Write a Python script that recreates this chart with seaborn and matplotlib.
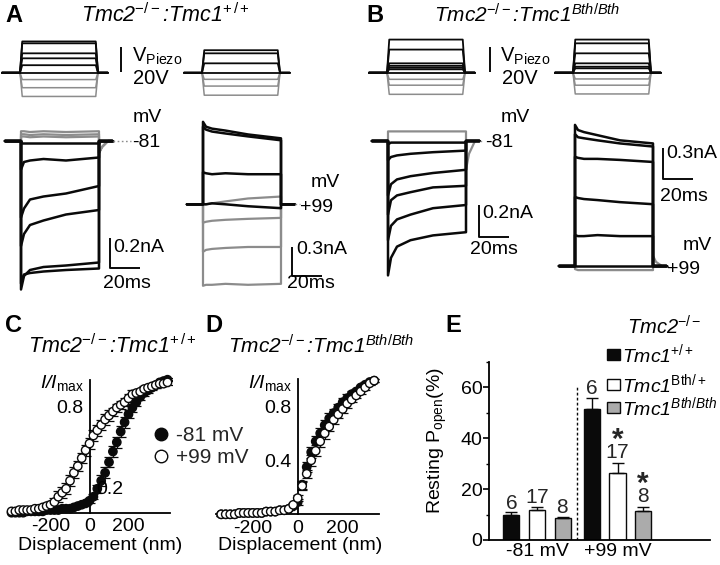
import matplotlib
matplotlib.use("Agg")
import matplotlib.pyplot as plt
from matplotlib.lines import Line2D
from matplotlib.patches import Rectangle
import pandas as pd
import seaborn as sns

# ------------------------------------------------------------------ data
STEP_MS = 52                      # step duration (ms)
TRACE_T = [0, 2, 6, 15, 30, 52]   # sample times of the current traces during the step (ms)
TAIL_T = [52, 54, 58]             # sample times of the gray off-tail (ms)
T_PRE, T_POST = -10.7, 61
STIM_T0, STIM_T1 = -12, 58.5
RISE = 1.5

# piezo driver steps (V)
A_STIM_L_BLACK = [25, 23.5, 15.5, 11.5, 6]
A_STIM_L_GRAY = [-5.5, -12, -19]
A_STIM_R_BLACK = [18, 15.5, 7.5]
A_STIM_R_GRAY = [-5.3, -10.7, -18]
B_STIM_L_BLACK = [26.5, 18.5, 7.5, 5.5, 4, 2.7]
B_STIM_L_GRAY = [-5.3, -10, -17.3]
B_STIM_R_BLACK = [26.5, 23.5, 15.5, 7.5, 4.8, 3.5]
B_STIM_R_GRAY = [-5, -10, -17]

# transducer currents (nA) at TRACE_T
A81_BLACK = [[-0.01, -0.01, -0.01, -0.01, -0.01, -0.01],
             [-0.19, -0.14, -0.13, -0.12, -0.13, -0.11],
             [-0.51, -0.45, -0.39, -0.37, -0.35, -0.30],
             [-0.70, -0.62, -0.56, -0.53, -0.49, -0.46],
             [-0.99, -0.90, -0.86, -0.84, -0.83, -0.81],
             [-0.95, -0.89, -0.88, -0.87, -0.86, -0.85]]
A81_GRAY = [[0.065, 0.065, 0.06, 0.065, 0.06, 0.065],
            [0.045, 0.045, 0.04, 0.045, 0.04, 0.045],
            [0.03, 0.03, 0.025, 0.03, 0.025, 0.03]]
A81_GRAY_TAIL = [-0.08, -0.04, 0.0]

A99_BLACK = [[0.85, 0.80, 0.78, 0.76, 0.72, 0.68],
             [0.80, 0.77, 0.75, 0.73, 0.70, 0.66],
             [0.33, 0.32, 0.31, 0.32, 0.31, 0.31],
             [0.00, 0.00, 0.01, 0.00, -0.02, -0.04]]
A99_GRAY = [[0.00, 0.00, 0.01, 0.03, 0.06, 0.08],
            [-0.19, -0.18, -0.17, -0.16, -0.15, -0.14],
            [-0.49, -0.47, -0.46, -0.45, -0.44, -0.44],
            [-0.84, -0.83, -0.83, -0.82, -0.83, -0.82]]

B81_BLACK = [[-0.02, -0.01, -0.01, -0.01, -0.01, -0.01],
             [-0.12, -0.10, -0.09, -0.08, -0.07, -0.06],
             [-0.34, -0.27, -0.24, -0.22, -0.20, -0.18],
             [-0.46, -0.37, -0.34, -0.32, -0.29, -0.28],
             [-0.62, -0.53, -0.49, -0.46, -0.42, -0.40],
             [-0.84, -0.73, -0.66, -0.62, -0.59, -0.57]]
B81_GRAY = [[0.06, 0.06, 0.06, 0.06, 0.06, 0.06]]
B81_GRAY_TAIL = [-0.18, -0.08, 0.0]

B99_BLACK = [[1.37, 1.32, 1.30, 1.27, 1.22, 1.19],
             [1.28, 1.25, 1.24, 1.22, 1.19, 1.16],
             [1.06, 1.05, 1.04, 1.04, 1.03, 1.01],
             [0.67, 0.66, 0.65, 0.64, 0.62, 0.60],
             [0.30, 0.29, 0.29, 0.30, 0.29, 0.29],
             [0.00, 0.00, 0.00, 0.00, 0.00, 0.00]]
B99_GRAY = [[-0.03, -0.04, -0.04, -0.04, -0.04, -0.04]]
B99_GRAY_TAIL = [0.10, 0.04, 0.0]

# activation curves (I/Imax vs displacement, nm)
C_X = [-400, -380, -360, -340, -320, -300, -280, -260, -240, -220, -200, -180, -160, -140,
       -120, -100, -80, -60, -40, -20, 0, 20, 40, 60, 80, 100, 120, 140, 160, 180, 200,
       220, 240, 260, 280, 300, 320, 340, 360, 380, 400]
C_NEG81 = [0.00, 0.00, 0.00, 0.00, 0.01, 0.01, 0.01, 0.01, 0.01, 0.02, 0.02, 0.02, 0.02, 0.03,
           0.03, 0.03, 0.04, 0.05, 0.06, 0.07, 0.09, 0.12, 0.18, 0.24, 0.30, 0.38, 0.46, 0.53,
           0.61, 0.68, 0.74, 0.79, 0.83, 0.87, 0.90, 0.92, 0.94, 0.96, 0.98, 0.99, 1.00]
C_NEG81_ERR = [0.01, 0.01, 0.01, 0.01, 0.01, 0.01, 0.01, 0.01, 0.01, 0.01, 0.01, 0.01, 0.01, 0.01,
               0.01, 0.01, 0.01, 0.01, 0.01, 0.01, 0.02, 0.02, 0.03, 0.04, 0.04, 0.04, 0.04, 0.04,
               0.04, 0.04, 0.03, 0.03, 0.03, 0.02, 0.02, 0.02, 0.02, 0.02, 0.01, 0.01, 0.01]
C_POS99 = [0.01, 0.01, 0.02, 0.02, 0.02, 0.02, 0.03, 0.03, 0.04, 0.05, 0.06, 0.08, 0.12, 0.15,
           0.18, 0.24, 0.30, 0.35, 0.41, 0.47, 0.52, 0.58, 0.62, 0.66, 0.70, 0.73, 0.76, 0.79,
           0.81, 0.83, 0.86, 0.89, 0.90, 0.91, 0.93, 0.94, 0.95, 0.96, 0.97, 0.97, 0.98]
C_POS99_ERR = [0.01, 0.01, 0.01, 0.01, 0.01, 0.01, 0.01, 0.01, 0.02, 0.02, 0.03, 0.03, 0.04, 0.04,
               0.04, 0.04, 0.04, 0.04, 0.04, 0.04, 0.04, 0.04, 0.04, 0.04, 0.04, 0.04, 0.03, 0.03,
               0.03, 0.03, 0.03, 0.03, 0.02, 0.02, 0.02, 0.02, 0.02, 0.02, 0.02, 0.02, 0.02]

D_X = [-340, -320, -300, -280, -260, -240, -220, -200, -180, -160, -140, -120, -100, -80,
       -60, -40, -20, 0, 20, 40, 60, 80, 100, 120, 140, 160, 180, 200, 220, 240, 260, 280,
       300, 320, 340]
D_NEG81 = [0.00, 0.00, 0.00, 0.00, 0.01, 0.01, 0.01, 0.01, 0.01, 0.01, 0.02, 0.02, 0.02, 0.03,
           0.03, 0.04, 0.06, 0.09, 0.22, 0.35, 0.46, 0.54, 0.60, 0.66, 0.71, 0.75, 0.79, 0.83,
           0.86, 0.89, 0.91, 0.94, 0.96, 0.98, 0.99]
D_NEG81_ERR = [0.01, 0.01, 0.01, 0.01, 0.01, 0.01, 0.01, 0.01, 0.01, 0.01, 0.01, 0.01, 0.01, 0.01,
               0.01, 0.01, 0.01, 0.02, 0.03, 0.04, 0.04, 0.04, 0.04, 0.04, 0.04, 0.03, 0.03, 0.03,
               0.03, 0.02, 0.02, 0.02, 0.02, 0.01, 0.01]
D_POS99 = [0.00, 0.00, 0.00, 0.00, 0.01, 0.01, 0.01, 0.01, 0.01, 0.01, 0.02, 0.02, 0.02, 0.03,
           0.03, 0.04, 0.07, 0.12, 0.21, 0.30, 0.40, 0.47, 0.54, 0.60, 0.65, 0.70, 0.74, 0.78,
           0.82, 0.85, 0.88, 0.91, 0.94, 0.97, 0.99]
D_POS99_ERR = [0.01, 0.01, 0.01, 0.01, 0.01, 0.01, 0.01, 0.01, 0.01, 0.01, 0.01, 0.01, 0.01, 0.01,
               0.01, 0.01, 0.01, 0.02, 0.03, 0.03, 0.04, 0.04, 0.04, 0.04, 0.03, 0.03, 0.03, 0.03,
               0.03, 0.02, 0.02, 0.02, 0.02, 0.01, 0.01]

# resting open probability (%)
E_VOLT = ["-81 mV", "+99 mV"]
E_GENO = ["+/+", "Bth/+", "Bth/Bth"]
E_WT = [9.8, 51.5]
E_HET = [11.6, 26.3]
E_HOM = [8.5, 11.4]
E_WT_ERR = [1.0, 4.3]
E_HET_ERR = [1.3, 3.9]
E_HOM_ERR = [0.6, 1.4]
E_WT_N = ["6", "6"]
E_HET_N = ["17", "17"]
E_HOM_N = ["8", "8"]
E_HET_STAR = [False, True]
E_HOM_STAR = [False, True]

# ------------------------------------------------------------------ style
sns.set_theme(style="white")
plt.rcParams["font.family"] = ["Liberation Sans", "DejaVu Sans"]
plt.rcParams.update({
    "mathtext.fontset": "custom",
    "mathtext.rm": "Liberation Sans",
    "mathtext.it": "Liberation Sans:italic",
    "mathtext.bf": "Liberation Sans:bold",
    "axes.linewidth": 1.3,
    "xtick.color": "black", "ytick.color": "black",
})

W, H = 720, 565
fig = plt.figure(figsize=(W / 100, H / 100), dpi=100)
fig.patch.set_facecolor("white")
BLACK, GRAY = "#0a0a0a", "#8c8c8c"


def rect(x0, y0, x1, y1):
    return [x0 / W, 1 - y1 / H, (x1 - x0) / W, (y1 - y0) / H]


def ftext(x, y, s, **kw):
    kw.setdefault("fontsize", 14)
    kw.setdefault("va", "center")
    kw.setdefault("color", "black")
    fig.text(x / W, 1 - y / H, s, **kw)


def map_axes(box, origin, kx, ky):
    x0, y0, x1, y1 = box
    ax = fig.add_axes(rect(*box))
    ox, oy = origin
    ax.set_xlim((x0 - ox) / kx, (x1 - ox) / kx)
    ax.set_ylim((oy - y1) / ky, (oy - y0) / ky)
    ax.axis("off")
    ax._map = (origin, kx, ky)
    return ax


def px2data(ax, x, y):
    (ox, oy), kx, ky = ax._map
    return (x - ox) / kx, (oy - y) / ky


def draw_stim(ax, black, gray):
    for v in gray:
        ax.plot([STIM_T0, 0, RISE, STEP_MS - RISE, STEP_MS, STIM_T1], [0, 0, v, v, 0, 0],
                color=GRAY, lw=1.1)
    for v in black:
        ax.plot([STIM_T0, 0, RISE, STEP_MS - RISE, STEP_MS, STIM_T1], [0, 0, v, v, 0, 0],
                color=BLACK, lw=1.3)
    ax.plot([STIM_T0, STIM_T1], [0, 0], color=BLACK, lw=1.3)


def draw_traces(ax, black, gray, gray_tail=None):
    for vals in gray:
        t = [T_PRE, 0] + TRACE_T
        y = [0, 0] + vals
        if gray_tail is not None:
            t += TAIL_T + [T_POST]
            y += gray_tail + [0]
        else:
            t += [STEP_MS, T_POST]
            y += [0, 0]
        ax.plot(t, y, color=GRAY, lw=1.6)
    for vals in black:
        ax.plot([T_PRE, 0] + TRACE_T + [STEP_MS, T_POST], [0, 0] + vals + [0, 0],
                color=BLACK, lw=1.8)


def scalebar(ax, corner, dx, dy):
    cx, cy = px2data(ax, *corner)
    xs = [cx, cx] if dx == 0 else [cx, cx, cx + dx]
    ys = [cy + dy, cy] if dx == 0 else [cy + dy, cy, cy]
    ax.plot(xs, ys, color=BLACK, lw=1.4, clip_on=False, solid_capstyle="butt")


def dotted(ax, x_end_px):
    x_end, _ = px2data(ax, x_end_px, 0)
    ax.plot([T_POST, x_end], [0, 0], color=GRAY, lw=1.0, ls=(0, (1.2, 1.8)))


# ------------------------------------------------------------------ panel A / B
axs = map_axes((0, 30, 180, 105), (20, 72.7), 1.5, 1.25)
draw_stim(axs, A_STIM_L_BLACK, A_STIM_L_GRAY)
scalebar(axs, (121, 72), 0, 20)
axs = map_axes((180, 30, 300, 105), (202, 72.7), 1.5, 1.25)
draw_stim(axs, A_STIM_R_BLACK, A_STIM_R_GRAY)
axs = map_axes((362, 30, 545, 105), (387, 72.7), 1.5, 1.25)
draw_stim(axs, B_STIM_L_BLACK, B_STIM_L_GRAY)
scalebar(axs, (490, 72), 0, 20)
axs = map_axes((550, 30, 670, 105), (573, 72.7), 1.5, 1.25)
draw_stim(axs, B_STIM_R_BLACK, B_STIM_R_GRAY)

axA1 = map_axes((0, 105, 180, 305), (21, 141), 1.5, 150)
draw_traces(axA1, A81_BLACK, A81_GRAY, A81_GRAY_TAIL)
scalebar(axA1, (110, 268), 20, 0.2)
dotted(axA1, 131)

axA2 = map_axes((180, 105, 360, 305), (203, 204.3), 1.5, 97)
draw_traces(axA2, A99_BLACK, A99_GRAY)
scalebar(axA2, (292, 276), 20, 0.3)
dotted(axA2, 300)

axB1 = map_axes((360, 105, 550, 305), (388, 141), 1.5, 160)
draw_traces(axB1, B81_BLACK, B81_GRAY, B81_GRAY_TAIL)
scalebar(axB1, (479, 237), 20, 0.2)
dotted(axB1, 484)

axB2 = map_axes((550, 105, 720, 305), (575, 266), 1.5, 103)
draw_traces(axB2, B99_BLACK, B99_GRAY, B99_GRAY_TAIL)
scalebar(axB2, (663, 179), 20, 0.3)
dotted(axB2, 667)

ftext(5, 15, "A", fontsize=17, fontweight="bold")
ftext(81, 15, "Tmc2$^{-/-}$:Tmc1$^{+\\,/+}$", style="italic", fontsize=15.5)
ftext(366, 15, "B", fontsize=17, fontweight="bold")
ftext(434, 15, "Tmc2$^{-/-}$:Tmc1$^{Bth/Bth}$", style="italic", fontsize=15)
ftext(132, 56, "V$_{\\mathrm{Piezo}}$", fontsize=14.5)
ftext(133, 79, "20V", fontsize=14.5)
ftext(500, 56, "V$_{\\mathrm{Piezo}}$", fontsize=14.5)
ftext(502, 79, "20V", fontsize=14.5)

ftext(133, 117, "mV")
ftext(132, 142, "-81")
ftext(113, 248, "0.2nA")
ftext(103, 284, "20ms")

ftext(311, 183, "mV")
ftext(300, 207, "+99")
ftext(296, 250, "0.3nA")
ftext(287, 284, "20ms")

ftext(501, 117, "mV")
ftext(485, 142, "-81")
ftext(482, 213, "0.2nA")
ftext(470, 250, "20ms")

ftext(683, 245, "mV")
ftext(667, 269, "+99")
ftext(666, 154, "0.3nA")
ftext(660, 196, "20ms")


# ------------------------------------------------------------------ panels C / D
def curve_axes(box, ox, oy, kx, ky, xspan):
    x0, y0, x1, y1 = box
    ax = fig.add_axes(rect(*box))
    ax.set_xlim((x0 - ox) / kx, (x1 - ox) / kx)
    ax.set_ylim((oy - y1) / ky, (oy - y0) / ky)
    ax.set_facecolor("none")
    for s in ("top", "right"):
        ax.spines[s].set_visible(False)
    ax.spines["left"].set_position(("data", 0))
    ax.spines["bottom"].set_position(("data", 0))
    ax.spines["left"].set_bounds(0, 1.0)
    ax.spines["bottom"].set_bounds(*xspan)
    for s in ("left", "bottom"):
        ax.spines[s].set_color("black")
        ax.spines[s].set_linewidth(1.3)
    ax.set_xticks([-200, 0, 200])
    ax.set_xticklabels(["-200", "0", "200"])
    ax.tick_params(axis="x", direction="out", length=3, width=1.2, labelsize=14, pad=1)
    return ax


def draw_curve(ax, x, neg, neg_err, pos, pos_err):
    ax.errorbar(x, neg, yerr=neg_err, fmt="none", ecolor=BLACK, elinewidth=0.9,
                capsize=3.5, capthick=0.9, zorder=2)
    ax.errorbar(x, pos, yerr=pos_err, fmt="none", ecolor=BLACK, elinewidth=0.9,
                capsize=3.5, capthick=0.9, zorder=2)
    n = len(x)
    df = pd.DataFrame({"x": list(x) * 2, "y": list(neg) + list(pos),
                       "cond": ["-81 mV"] * n + ["+99 mV"] * n})
    sns.scatterplot(data=df, x="x", y="y", hue="cond",
                    palette={"-81 mV": BLACK, "+99 mV": "white"},
                    edgecolor=BLACK, linewidth=1.0, s=36, ax=ax, legend=False,
                    zorder=3, clip_on=False)
    ax.set_xlabel("")
    ax.set_ylabel("")


axC = curve_axes((8, 372, 172, 522), 89.5, 512.7, 0.195, 133, (-420, 412))
draw_curve(axC, C_X, C_NEG81, C_NEG81_ERR, C_POS99, C_POS99_ERR)
axC.set_yticks([0.2, 0.4, 0.6, 0.8, 1.0])
axC.set_yticklabels(["", "", "", "0.8", ""])
axC.tick_params(axis="y", direction="inout", length=7, width=1.2, labelsize=14, pad=1)
ftext(96, 489, "0.2")
ftext(40, 383, "I/I$_{\\mathrm{max}}$", style="italic")
ftext(100, 545, "Displacement (nm)", ha="center")
ftext(5, 326, "C", fontsize=17, fontweight="bold")
ftext(28, 346, "Tmc2$^{-/-}$:Tmc1$^{+\\,/+}$", style="italic", fontsize=15.5)
leg_handles = [Line2D([], [], marker="o", ls="none", mfc=BLACK, mec=BLACK, ms=9),
               Line2D([], [], marker="o", ls="none", mfc="white", mec=BLACK, ms=9, mew=1.0)]
axC.legend(leg_handles, ["-81 mV", "+99 mV"], loc="upper left",
           bbox_to_anchor=(154 / W, 1 - 426 / H), bbox_transform=fig.transFigure,
           frameon=False, fontsize=15, handlelength=0.7, handletextpad=0.35,
           labelspacing=0.15, borderpad=0, borderaxespad=0)

axD = curve_axes((215, 372, 380, 522), 297.7, 514.3, 0.225, 135, (-365, 360))
draw_curve(axD, D_X, D_NEG81, D_NEG81_ERR, D_POS99, D_POS99_ERR)
axD.set_yticks([0.2, 0.4, 0.6, 0.8, 1.0])
axD.set_yticklabels(["", "0.4", "", "0.8", ""])
axD.tick_params(axis="y", direction="inout", length=7, width=1.2, labelsize=14, pad=1)
ftext(248, 383, "I/I$_{\\mathrm{max}}$", style="italic")
ftext(300, 545, "Displacement (nm)", ha="center")
ftext(205, 326, "D", fontsize=17, fontweight="bold")
ftext(228, 346, "Tmc2$^{-/-}$:Tmc1$^{Bth/Bth}$", style="italic", fontsize=15)

# ------------------------------------------------------------------ panel E
axE = fig.add_axes(rect(489.3, 361.7, 710, 540))
dfE = pd.DataFrame({
    "volt": E_VOLT * 3,
    "geno": [g for g in E_GENO for _ in E_VOLT],
    "val": E_WT + E_HET + E_HOM,
})
sns.barplot(data=dfE, x="volt", y="val", hue="geno", order=E_VOLT, hue_order=E_GENO,
            palette=[BLACK, "white", "#ababab"], edgecolor=BLACK, linewidth=1.0,
            width=0.96, gap=0.375, errorbar=None, ax=axE, legend=False, saturation=1)
kxE = 80.5
axE.set_xlim((489.3 - 537) / kxE, (710 - 537) / kxE)
axE.set_ylim(0, 70)
axE.set_facecolor("none")
for s in ("top", "right"):
    axE.spines[s].set_visible(False)
for s in ("left", "bottom"):
    axE.spines[s].set_color("black")
    axE.spines[s].set_linewidth(1.3)
axE.set_yticks([0, 20, 40, 60])
axE.set_yticks([10, 30, 50, 70], minor=True)
axE.tick_params(axis="y", which="major", direction="out", length=4, width=1.2,
                labelsize=14, pad=1, left=True)
axE.tick_params(axis="y", which="minor", direction="out", length=2.5, width=1.0, left=True)
axE.tick_params(axis="x", length=0, labelsize=14, pad=2)
axE.set_xlabel("")
axE.set_ylabel("")
axE.vlines(0.5, 0, 60, colors=BLACK, linestyles=(0, (2, 1.6)), lw=1.0)

for cont, errs, ns, stars in zip(axE.containers,
                                 [E_WT_ERR, E_HET_ERR, E_HOM_ERR],
                                 [E_WT_N, E_HET_N, E_HOM_N],
                                 [[False, False], E_HET_STAR, E_HOM_STAR]):
    for bar, e, n, st in zip(cont, errs, ns, stars):
        xc = bar.get_x() + bar.get_width() / 2
        h = bar.get_height()
        axE.errorbar([xc], [h], yerr=[[0], [e]], fmt="none", ecolor=BLACK,
                     elinewidth=1.0, capsize=4.5, capthick=1.0)
        if st:
            # significance star stacked over the n label as one text
            axE.annotate("$\\mathbf{*}$\n$_{" + n + "}$", (xc, h + e), xytext=(0, 2.5),
                         textcoords="offset points", ha="center", va="bottom",
                         multialignment="center", linespacing=0.0, fontsize=21.5)
        else:
            axE.annotate("$" + n + "$", (xc, h + e), xytext=(0, 2.8),
                         textcoords="offset points", ha="center", va="baseline",
                         fontsize=15)

ftext(437, 441, "Resting P$_{\\mathrm{open}}$(%)", rotation=90, ha="center", fontsize=14)
ftext(445, 326, "E", fontsize=17, fontweight="bold")
ftext(627, 327, "Tmc2$^{-/-}$", style="italic", fontsize=14.5)
leg_rows = [(354, BLACK, "Tmc1$^{+/+}$"),
            (384, "white", "Tmc1$^{\\mathrm{Bth/+}}$"),
            (407, "#ababab", "Tmc1$^{Bth/Bth}$")]
for yy, col, lab in leg_rows:
    fig.patches.append(Rectangle((607 / W, 1 - (yy + 5.5) / H), 13 / W, 11 / H,
                                 transform=fig.transFigure, facecolor=col,
                                 edgecolor=BLACK, lw=1.0))
    ftext(622, yy, lab, style="italic", fontsize=14)

fig.savefig("out.png", dpi=100, facecolor="white")
